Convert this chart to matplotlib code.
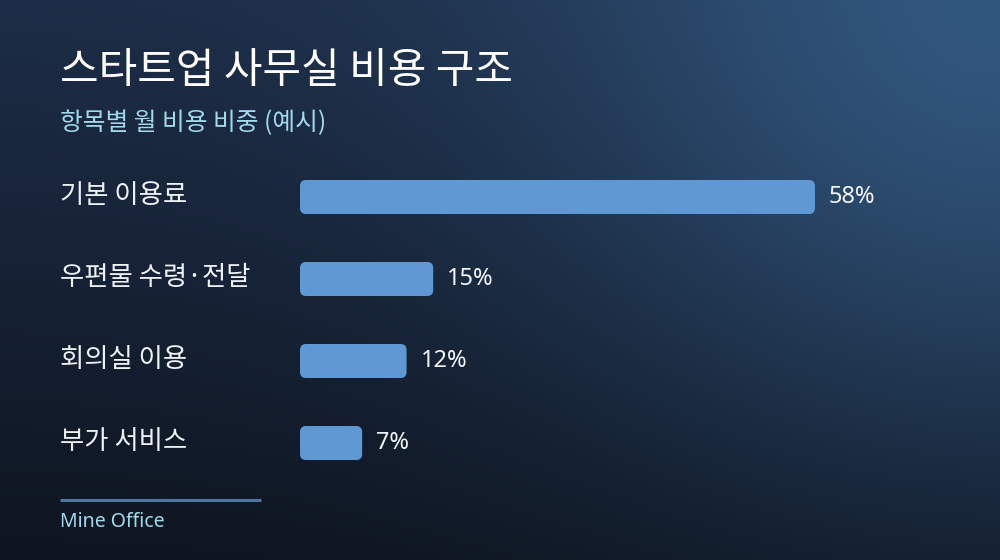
import numpy as np
import matplotlib
matplotlib.use("Agg")
import matplotlib.pyplot as plt
from matplotlib.patches import FancyBboxPatch
from matplotlib.transforms import blended_transform_factory
from matplotlib.colors import to_rgb

plt.rcParams['font.family'] = ['Noto Sans CJK KR', 'DejaVu Sans']

# ---- data ----
title = "스타트업 사무실 비용 구조"
subtitle = "항목별 월 비용 비중 (예시)"
categories = ["기본 이용료", "우편물 수령·전달", "회의실 이용", "부가 서비스"]
values = [58, 15, 12, 7]
value_labels = ["58%", "15%", "12%", "7%"]
footer = "Mine Office"

W, H = 1000, 560
fig = plt.figure(figsize=(W / 100, H / 100), dpi=100)

# ---- background overlay axes (pixel coords) ----
ov = fig.add_axes([0, 0, 1, 1])
ov.set_xlim(0, W)
ov.set_ylim(H, 0)
ov.axis('off')

yy, xx = np.mgrid[0:H, 0:W]
top = np.array(to_rgb('#1d2d47'))
bot = np.array(to_rgb('#0e1520'))
t = (yy / H)[..., None]
base = top * (1 - t) + bot * t
d = np.sqrt((xx - W) ** 2 + (yy + 20) ** 2)
w = np.exp(-(d / 450.0) ** 2)[..., None]
glow = np.array(to_rgb('#31567d'))
img = base * (1 - w) + glow * w
ov.imshow(img, extent=(0, W, H, 0), aspect='auto', zorder=0)

ov.text(60, 72, title, color='white', fontsize=30.2, fontweight='medium',
        va='center', ha='left')
ov.text(60, 123, subtitle, color='#a3d9ec', fontsize=17.8, va='center', ha='left')

# footer line and text
ov.plot([60, 261], [500, 500], color='#4f75a0', lw=2.2, solid_capstyle='butt')
ov.text(60, 522, footer, color='#a3d9ec', fontsize=14, va='center', ha='left',
        family=['Noto Sans', 'DejaVu Sans'])

# ---- bar axes ----
px_per_unit = 515 / 58.0
ax_left, ax_right = 300, 1000
ax_top, ax_bot = 156, 484
ax = fig.add_axes([ax_left / W, 1 - ax_bot / H, (ax_right - ax_left) / W, (ax_bot - ax_top) / H])
ax.set_xlim(0, (ax_right - ax_left) / px_per_unit)
ax.set_ylim(len(categories) - 0.5, -0.5)
ax.axis('off')
ax.patch.set_alpha(0)

y_pos = np.arange(len(categories))
bar_h = 34 / 82.0
bars = ax.barh(y_pos, values, height=bar_h, color='#5f98d3')

radius_px = 6
x_units_per_px = 1 / px_per_unit
y_units_per_px = 1 / 82.0
rs = radius_px * x_units_per_px
aspect = y_units_per_px / x_units_per_px
for b in bars:
    x0, y0, bw, bh = b.get_x(), b.get_y(), b.get_width(), b.get_height()
    b.remove()
    p = FancyBboxPatch((x0, y0), bw, bh,
                       boxstyle=f"round,pad=0,rounding_size={rs}",
                       mutation_aspect=aspect, facecolor='#5f98d3',
                       edgecolor='none')
    ax.add_patch(p)

for yv, v, lab in zip(y_pos, values, value_labels):
    ax.annotate(lab, xy=(v, yv), xytext=(10, 0), textcoords='offset points',
                va='center', ha='left', color='#f2f5fa', fontsize=17,
                family=['Noto Sans', 'DejaVu Sans'])

trans = blended_transform_factory(ov.transData, ax.transData)
for yv, cat in zip(y_pos, categories):
    ax.text(60, yv - 0.02, cat, transform=trans, color='#eef2f7', fontsize=19,
            va='center', ha='left')

fig.savefig('out.png', dpi=100)
